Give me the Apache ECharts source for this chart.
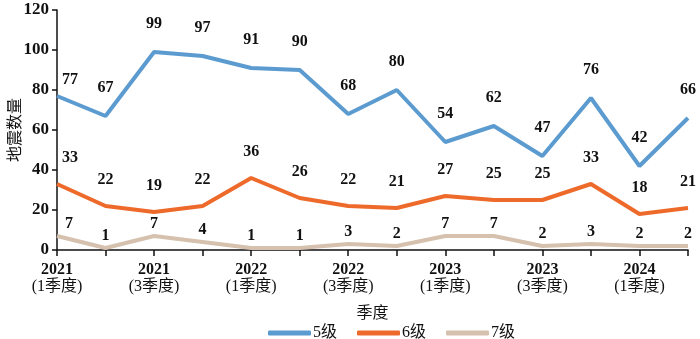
<!DOCTYPE html>
<html><head><meta charset="utf-8">
<script src="https://cdn.jsdelivr.net/npm/echarts@6/dist/echarts.min.js"></script>
<style>html,body{margin:0;padding:0;background:#fff}#c{width:700px;height:339px}</style>
</head><body><div id="c"></div>
<script>
var categories = ['2021\n(1季度)','2021Q2','2021\n(3季度)','2021Q4','2022\n(1季度)','2022Q2','2022\n(3季度)','2022Q4','2023\n(1季度)','2023Q2','2023\n(3季度)','2023Q4','2024\n(1季度)','2024Q2'];
var level5 = [77, 67, 99, 97, 91, 90, 68, 80, 54, 62, 47, 76, 42, 66];
var level6 = [33, 22, 19, 22, 36, 26, 22, 21, 27, 25, 25, 33, 18, 21];
var level7 = [7, 1, 7, 4, 1, 1, 3, 2, 7, 7, 2, 3, 2, 2];
var seriesNames = ['5级','6级','7级'];
var yTicks = [0, 20, 40, 60, 80, 100, 120];

var FONT = '"Liberation Serif","Noto Sans CJK SC",serif';
var colors = ['#5b9bd0','#ee6a2b','#d5c1ae'];
var dists = [20, 18, 4];
var firstOffsets = [[13, 12], [13, 0], [12, 0]];
function mk(name, data, i) {
  return {
    name: name, type: 'line', symbol: 'circle', symbolSize: 0,
    data: data.map(function (v, k) {
      return k === 0 ? {value: v, label: {offset: firstOffsets[i]}} : v;
    }),
    lineStyle: {width: 4, color: colors[i]}, itemStyle: {color: colors[i]},
    label: {show: true, position: 'top', distance: dists[i], color: '#111', fontFamily: FONT, fontSize: 16, fontWeight: 'bold'},
    emphasis: {disabled: true}, z: 3 - i
  };
}
var chart = echarts.init(document.getElementById('c'));
chart.setOption({
  animation: false,
  grid: {left: 57, right: 12, top: 10, bottom: 89, containLabel: false, outerBoundsMode: 'none'},
  legend: {
    top: 320, left: 263, itemWidth: 43, itemHeight: 5, itemGap: 20, icon: 'roundRect',
    textStyle: {fontFamily: FONT, fontSize: 16, color: '#111', padding: [0,0,0,-3]},
    data: seriesNames
  },
  xAxis: {
    type: 'category', data: categories, boundaryGap: false,
    name: '季度', nameLocation: 'middle', nameGap: 56, nameMoveOverlap: false,
    nameTextStyle: {fontFamily: FONT, fontSize: 16, color: '#111'},
    axisLine: {lineStyle: {color: '#111', width: 1.5}},
    axisTick: {show: true, interval: 0, length: 6, lineStyle: {color: '#111', width: 1.5}},
    axisLabel: {
      interval: 1, color: '#111', margin: 11,
      formatter: function (v) { var p = v.split('\n'); return '{a|' + p[0] + '}\n{b|' + p[1] + '}'; },
      rich: {
        a: {fontFamily: FONT, fontSize: 16, fontWeight: 'bold', color: '#111', lineHeight: 17},
        b: {fontFamily: FONT, fontSize: 16, color: '#111', lineHeight: 17}
      }
    },
    splitLine: {show: false}
  },
  yAxis: {
    type: 'value', min: yTicks[0], max: yTicks[yTicks.length-1], interval: 20,
    name: '地震数量', nameLocation: 'middle', nameGap: 33, nameRotate: 90, nameMoveOverlap: false,
    nameTextStyle: {fontFamily: FONT, fontSize: 16, color: '#111'},
    axisLine: {show: true, lineStyle: {color: '#111', width: 1.5}},
    axisTick: {show: true, length: 5, lineStyle: {color: '#111', width: 1.5}},
    axisLabel: {fontFamily: FONT, fontSize: 17, fontWeight: 'bold', color: '#111', margin: 8},
    splitLine: {show: false}
  },
  series: [mk(seriesNames[0], level5, 0), mk(seriesNames[1], level6, 1), mk(seriesNames[2], level7, 2)]
});
</script></body></html>
